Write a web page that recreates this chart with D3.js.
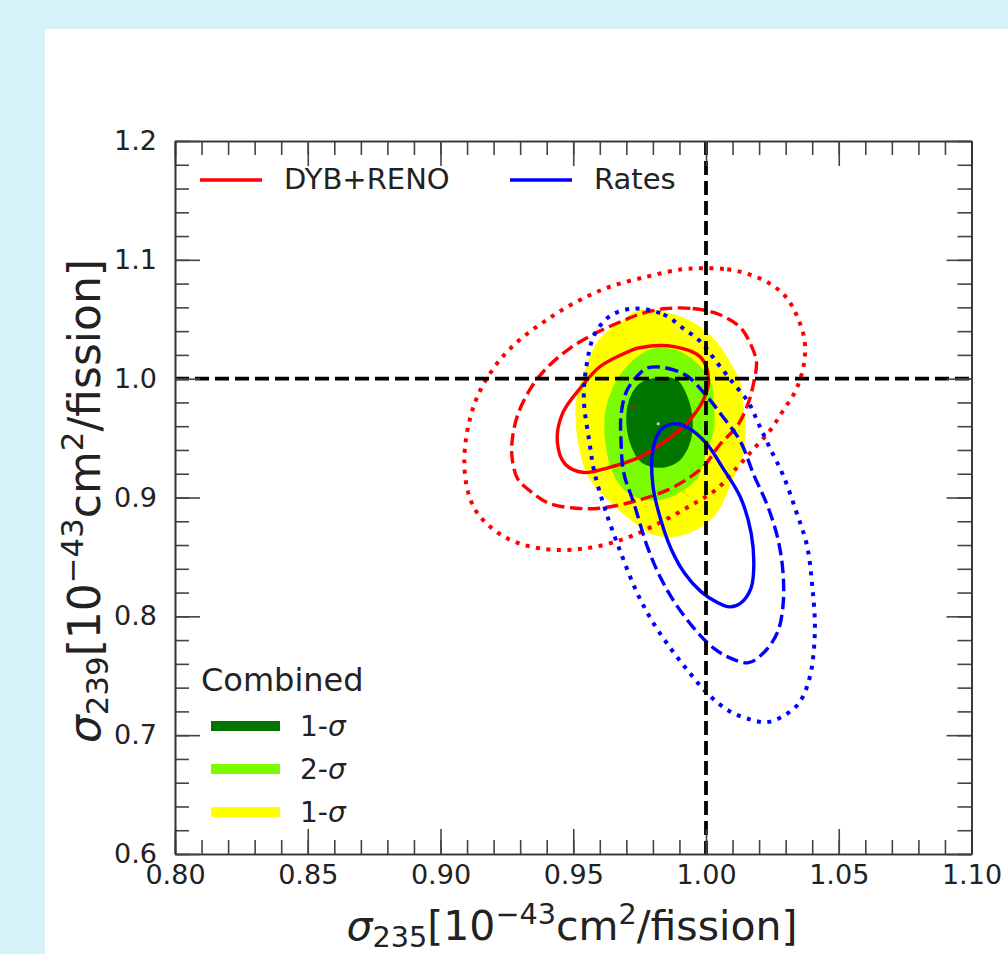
<!DOCTYPE html>
<html>
<head>
<meta charset="utf-8">
<script src="https://cdn.jsdelivr.net/npm/d3@7/dist/d3.min.js"></script>
<style>
  body { margin: 0; background: #d7f1f8; }
  text { font-family: "DejaVu Sans", sans-serif; fill: #222; }
</style>
</head>
<body>
<svg id="chart"></svg>
<script>
// sigma_235 vs sigma_239 contour plot
const W = 1008, H = 954;

// tick values
const xTicks = [0.80, 0.85, 0.90, 0.95, 1.00, 1.05, 1.10];
const yTicks = [0.6, 0.7, 0.8, 0.9, 1.0, 1.1, 1.2];
const xMinor = d3.range(80, 111).map(d => d / 100);
const yMinor = d3.range(30, 61).map(d => d / 50);

// reference point (dashed cross-hair)
const refX = 1.00, refY = 1.00;

// DYB+RENO contours  [sigma235, sigma239]
const redSolid = [[0.975,1.026],[0.988,1.027],[0.998,1.018],[1.001,0.999],[0.999,0.982],[0.993,0.963],[0.985,0.948],[0.975,0.934],[0.963,0.925],[0.954,0.921],[0.947,0.928],[0.944,0.947],[0.946,0.971],[0.953,0.993],[0.960,1.010],[0.968,1.020]];
const redDashed = [[0.985,1.059],[0.995,1.059],[1.005,1.054],[1.013,1.043],[1.017,1.028],[1.019,1.014],[1.018,0.997],[1.016,0.980],[1.012,0.961],[1.005,0.944],[0.999,0.926],[0.988,0.909],[0.975,0.898],[0.960,0.891],[0.951,0.891],[0.941,0.895],[0.934,0.905],[0.929,0.916],[0.927,0.933],[0.927,0.948],[0.929,0.969],[0.934,0.992],[0.940,1.009],[0.949,1.026],[0.959,1.039],[0.969,1.049],[0.976,1.055]];
const redDotted = [[0.999,1.093],[1.008,1.092],[1.016,1.088],[1.024,1.080],[1.030,1.069],[1.034,1.054],[1.037,1.034],[1.037,1.014],[1.034,0.991],[1.029,0.973],[1.024,0.956],[1.018,0.941],[1.012,0.926],[1.004,0.907],[0.994,0.893],[0.981,0.877],[0.969,0.865],[0.954,0.857],[0.938,0.857],[0.924,0.867],[0.913,0.890],[0.909,0.927],[0.913,0.980],[0.924,1.020],[0.941,1.051],[0.961,1.075],[0.978,1.086],[0.991,1.092]];

// Rates contours
const blueSolid = [[0.988,0.962],[0.993,0.959],[1.000,0.946],[1.006,0.926],[1.013,0.900],[1.017,0.870],[1.018,0.843],[1.017,0.824],[1.013,0.811],[1.009,0.808],[1.004,0.812],[0.998,0.821],[0.992,0.836],[0.987,0.856],[0.983,0.881],[0.980,0.910],[0.980,0.940],[0.983,0.957]];
const blueDashed = [[0.978,1.009],[0.985,1.009],[0.993,1.002],[1.000,0.986],[1.006,0.969],[1.013,0.947],[1.018,0.919],[1.023,0.894],[1.027,0.866],[1.029,0.837],[1.029,0.809],[1.027,0.787],[1.022,0.770],[1.016,0.761],[1.009,0.765],[1.003,0.773],[0.997,0.786],[0.989,0.809],[0.983,0.832],[0.978,0.858],[0.973,0.894],[0.969,0.921],[0.968,0.947],[0.968,0.969],[0.970,0.989],[0.974,1.002]];
const blueDotted = [[0.973,1.059],[0.984,1.054],[0.991,1.043],[0.998,1.031],[1.004,1.014],[1.010,0.997],[1.016,0.980],[1.020,0.961],[1.024,0.942],[1.029,0.919],[1.034,0.888],[1.038,0.860],[1.040,0.826],[1.041,0.787],[1.039,0.748],[1.035,0.727],[1.029,0.716],[1.023,0.711],[1.017,0.713],[1.009,0.720],[1.001,0.734],[0.994,0.752],[0.987,0.772],[0.980,0.795],[0.974,0.820],[0.968,0.853],[0.962,0.890],[0.958,0.921],[0.956,0.948],[0.954,0.982],[0.955,1.011],[0.958,1.037],[0.964,1.053]];

// Combined filled regions
const comb3 = [[0.975,1.058],[0.988,1.054],[0.997,1.045],[1.004,1.031],[1.009,1.014],[1.013,0.997],[1.014,0.978],[1.015,0.958],[1.014,0.936],[1.010,0.915],[1.003,0.884],[0.991,0.868],[0.981,0.868],[0.974,0.877],[0.964,0.896],[0.956,0.916],[0.952,0.944],[0.951,0.980],[0.955,1.011],[0.960,1.034],[0.968,1.048]];
const comb2 = [[0.978,1.024],[0.984,1.026],[0.991,1.022],[0.998,1.010],[1.002,0.996],[1.003,0.976],[1.003,0.957],[1.000,0.937],[0.997,0.917],[0.990,0.904],[0.983,0.898],[0.975,0.899],[0.968,0.909],[0.964,0.926],[0.962,0.948],[0.962,0.971],[0.965,0.993],[0.970,1.010]];
const comb1 = [[0.982,1.001],[0.989,0.999],[0.993,0.985],[0.995,0.965],[0.994,0.946],[0.990,0.931],[0.983,0.925],[0.976,0.929],[0.972,0.942],[0.970,0.962],[0.971,0.982],[0.975,0.996]];

// best-fit points
const redBest = [0.973, 0.976];
const combBest = [0.982, 0.962];

const lineLegend = ["DYB+RENO", "Rates"];
const fillLegend = ["1-", "2-", "1-"];

const svg = d3.select('#chart').attr('width', W).attr('height', H);

svg.append('rect').attr('width', W).attr('height', H).attr('fill', '#d7f1f8');
svg.append('rect').attr('x', 45).attr('y', 29).attr('width', W - 45).attr('height', H - 29).attr('fill', '#fff');

const x = d3.scaleLinear().domain([0.8, 1.1]).range([175, 971.5]);
const y = d3.scaleLinear().domain([0.6, 1.2]).range([854, 141]);

const line = d3.line()
  .x(d => x(d[0]))
  .y(d => y(d[1]))
  .curve(d3.curveCatmullRomClosed.alpha(0.5));

const plot = svg.append('g');

// filled combined regions
[[comb3, '#ffff00'], [comb2, '#7cfc00'], [comb1, '#007500']].forEach(([pts, c]) => {
  plot.append('path').datum(pts).attr('d', line).attr('fill', c).attr('stroke', 'none');
});

// contour lines
const LW = 3.4;
const dashes = { solid: null, dashed: '12.5,5.5', dotted: '4,6.5' };
const widths = { solid: LW, dashed: LW, dotted: 4 };
[
  [redSolid, 'red', 'solid'], [redDashed, 'red', 'dashed'], [redDotted, 'red', 'dotted'],
  [blueSolid, 'blue', 'solid'], [blueDashed, 'blue', 'dashed'], [blueDotted, 'blue', 'dotted']
].forEach(([pts, c, s]) => {
  plot.append('path').datum(pts)
    .attr('d', line)
    .attr('fill', 'none')
    .attr('stroke', c === 'red' ? '#ff0000' : '#0000ff')
    .attr('stroke-width', widths[s])
    .attr('stroke-dasharray', dashes[s]);
});

// best fit markers
plot.append('rect')
  .attr('x', x(redBest[0]) - 2).attr('y', y(redBest[1]) - 1)
  .attr('width', 4).attr('height', 2).attr('fill', '#ff0000');
plot.append('circle')
  .attr('cx', x(combBest[0])).attr('cy', y(combBest[1]))
  .attr('r', 1.6).attr('fill', '#c8c8c8');

// dashed reference lines
plot.append('line')
  .attr('x1', x(refX)).attr('x2', x(refX)).attr('y1', y(1.2)).attr('y2', y(0.6))
  .attr('stroke', '#000').attr('stroke-width', 3.8).attr('stroke-dasharray', '14,6');
plot.append('line')
  .attr('x1', x(0.8)).attr('x2', x(1.1)).attr('y1', y(refY)).attr('y2', y(refY))
  .attr('stroke', '#000').attr('stroke-width', 3.8).attr('stroke-dasharray', '14,6');

// axes (ticks pointing inward on all four sides)
function styleAxis(g) {
  g.selectAll('path.domain').attr('stroke', '#333').attr('stroke-width', 1.6);
  g.selectAll('.tick line').attr('stroke', '#444').attr('stroke-width', 1.6);
  g.selectAll('.tick text').attr('font-size', 27).attr('fill', '#222')
    .attr('font-family', '"DejaVu Sans", sans-serif');
}

svg.append('g').attr('transform', `translate(0,${y(0.6)})`)
  .call(d3.axisBottom(x).tickValues(xMinor).tickFormat('').tickSizeInner(-14).tickSizeOuter(0)).call(styleAxis);
svg.append('g').attr('transform', `translate(0,${y(0.6)})`)
  .call(d3.axisBottom(x).tickValues(xTicks).tickFormat(d3.format('.2f')).tickSizeInner(-25).tickSizeOuter(0).tickPadding(11)).call(styleAxis);
svg.append('g').attr('transform', `translate(0,${y(1.2)})`)
  .call(d3.axisTop(x).tickValues(xMinor).tickFormat('').tickSizeInner(-14).tickSizeOuter(0)).call(styleAxis);
svg.append('g').attr('transform', `translate(0,${y(1.2)})`)
  .call(d3.axisTop(x).tickValues(xTicks).tickFormat('').tickSizeInner(-25).tickSizeOuter(0)).call(styleAxis);

svg.append('g').attr('transform', `translate(${x(0.8)},0)`)
  .call(d3.axisLeft(y).tickValues(yMinor).tickFormat('').tickSizeInner(-14).tickSizeOuter(0)).call(styleAxis);
svg.append('g').attr('transform', `translate(${x(0.8)},0)`)
  .call(d3.axisLeft(y).tickValues(yTicks).tickFormat(d3.format('.1f')).tickSizeInner(-25).tickSizeOuter(0).tickPadding(18)).call(styleAxis);
svg.append('g').attr('transform', `translate(${x(1.1)},0)`)
  .call(d3.axisRight(y).tickValues(yMinor).tickFormat('').tickSizeInner(-14).tickSizeOuter(0)).call(styleAxis);
svg.append('g').attr('transform', `translate(${x(1.1)},0)`)
  .call(d3.axisRight(y).tickValues(yTicks).tickFormat('').tickSizeInner(-25).tickSizeOuter(0)).call(styleAxis);

// axis labels with sub/superscripts
function mathLabel(t, sub, k) {
  t.append('tspan').attr('font-style', 'italic').text('σ');
  t.append('tspan').attr('font-size', '0.7em').attr('dy', 7 * k).text(sub);
  t.append('tspan').attr('dy', -7 * k).text('[10');
  t.append('tspan').attr('font-size', '0.7em').attr('dy', -16 * k).text('−43');
  t.append('tspan').attr('dy', 16 * k).text('cm');
  t.append('tspan').attr('font-size', '0.7em').attr('dy', -16 * k).text('2');
  t.append('tspan').attr('dy', 16 * k).text('/fission]');
}

svg.append('text')
  .attr('x', 572).attr('y', 940)
  .attr('text-anchor', 'middle').attr('font-size', 41)
  .call(t => mathLabel(t, '235', 1));

svg.append('text')
  .attr('transform', 'translate(100,501) rotate(-90)')
  .attr('text-anchor', 'middle').attr('font-size', 44)
  .call(t => mathLabel(t, '239', 1.08));

// line legend (top left)
const legColors = ['#ff0000', '#0000ff'];
const legX = [200, 510];
lineLegend.forEach((name, i) => {
  svg.append('line')
    .attr('x1', legX[i]).attr('x2', legX[i] + 62).attr('y1', 180).attr('y2', 180)
    .attr('stroke', legColors[i]).attr('stroke-width', LW);
  svg.append('text')
    .attr('x', legX[i] + 84).attr('y', 189)
    .attr('font-size', 29).text(name);
});

// combined legend (bottom left)
svg.append('text').attr('x', 201).attr('y', 691).attr('font-size', 32).text('Combined');
const fillColors = ['#007500', '#7cfc00', '#ffff00'];
fillLegend.forEach((lab, i) => {
  const cy = 726 + i * 43;
  svg.append('line')
    .attr('x1', 211).attr('x2', 280).attr('y1', cy).attr('y2', cy)
    .attr('stroke', fillColors[i]).attr('stroke-width', 10);
  const t = svg.append('text').attr('x', 300).attr('y', cy + 10).attr('font-size', 28);
  t.append('tspan').text(lab);
  t.append('tspan').attr('font-style', 'italic').text('σ');
});
</script>
</body>
</html>
